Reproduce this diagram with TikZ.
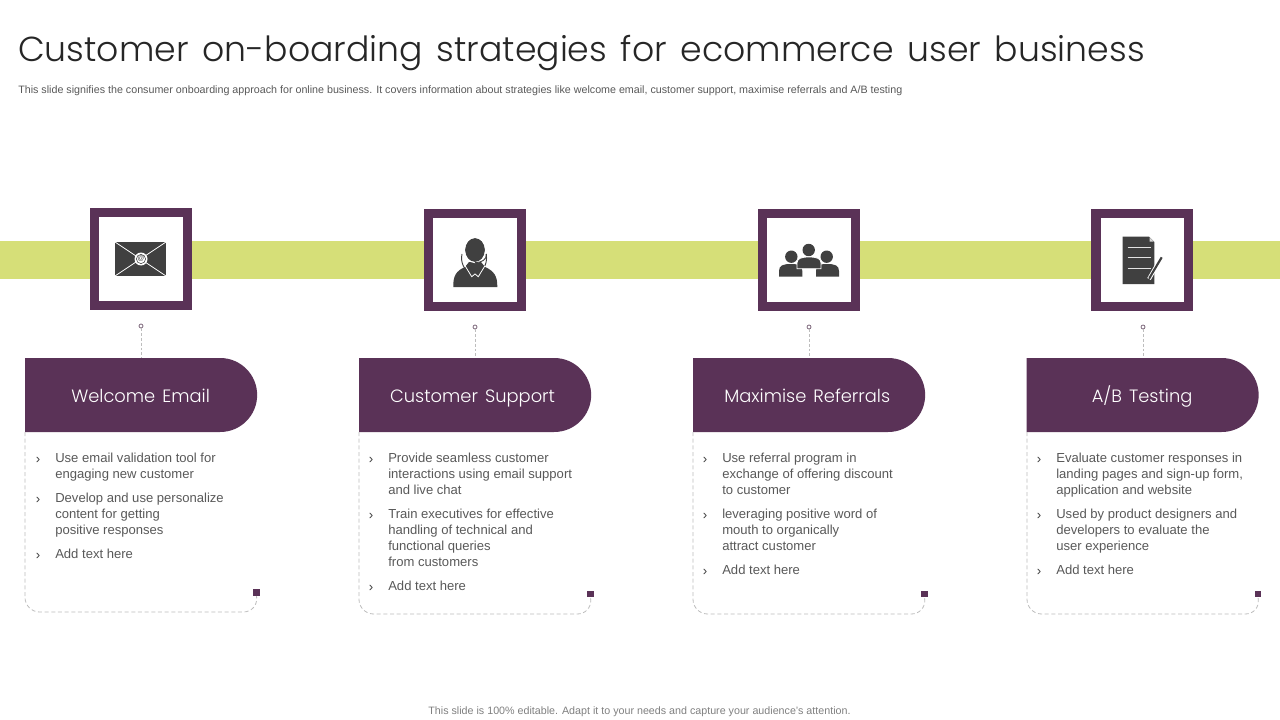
\documentclass[tikz,border=0pt]{standalone}
\usepackage{fontspec}
\setmainfont{Liberation Sans}
\newfontfamily\gothic[UprightFont={* Light},WordSpace=1.45]{Poppins}
\usetikzlibrary{shapes.misc}
\definecolor{plum}{HTML}{5A3257}
\definecolor{lime}{HTML}{D6DF78}
\definecolor{icon}{HTML}{404040}
\definecolor{dashc}{HTML}{BDBDBD}
\definecolor{bodyc}{HTML}{595959}
\tikzset{
 title/.style={anchor=base west,inner sep=0,text=black!85,font=\gothic\fontsize{26}{30}\selectfont},
 sub/.style={anchor=base west,inner sep=0,text=bodyc,font=\fontsize{8.03}{9}\selectfont},
 iconbox/.style={draw=plum,fill=white,line width=7.1pt,minimum size=69.4pt,inner sep=0},
 head/.style={rounded rectangle,rounded rectangle left arc=none,fill=plum,text=white,minimum width=174pt,minimum height=55.5pt,inner sep=0,text height=12pt,text depth=1.5pt,font=\gothic\fontsize{13.4}{16}\selectfont},
 para/.style={anchor=north west,inner sep=0,align=left,text=bodyc,font=\fontsize{9.8}{12}\selectfont},
 bull/.style={anchor=center,inner sep=0,text=icon,font=\fontsize{10}{12}\selectfont},
 dot/.style={circle,draw=plum!60!gray,fill=white,line width=.5pt,minimum size=3pt,inner sep=0},
 endsq/.style={rectangle,fill=plum,minimum size=5pt,inner sep=0},
 link/.style={draw=dashc,dashed,dash pattern=on 2.2pt off 1.4pt,line width=.6pt},
 panel/.style={draw=dashc,dash pattern=on 3pt off 2pt,line width=.6pt,rounded corners=11pt},
 ink/.style={fill=icon,draw=none},
 cut/.style={draw=white,line width=.6pt},
}
\begin{document}
\begin{tikzpicture}[x=0.75pt,y=-0.75pt]
\useasboundingbox (0,0) rectangle (1280,720);
\fill[white] (0,0) rectangle (1280,720);
\node[title] (ttl) at (18,62) {Customer on-boarding strategies for ecommerce user business};
\node[sub] (subttl) at (18,93.5) {This slide signifies the consumer onboarding approach for online business. It covers information about strategies like welcome email, customer support, maximise referrals and A/B testing};
\fill[lime] (0,241) rectangle (1280,279);
\node[iconbox] (box1) at (141,259) {};
\node[iconbox] (box2) at (475,260) {};
\node[iconbox] (box3) at (809,260) {};
\node[iconbox] (box4) at (1142.3,260) {};
% envelope
\fill[ink] (115,242) rectangle (166,276);
\draw[cut] (115,242) -- (166,276) (166,242) -- (115,276);
\fill[white] (141,259) circle (6.5);
\draw[icon,line width=.4pt] (141,259) circle (4.6);
\node[inner sep=0,text=icon,font=\fontsize{5}{5}\selectfont] (envat) at (141,259) {@};
% agent
\fill[ink] (453.3,287) .. controls (453,276) and (456,271) .. (465,267) -- (469,262) -- (481,262) -- (485,267) .. controls (494,271) and (497.5,276) .. (497.3,287) -- cycle;
\fill[ink] (475,250) ellipse (10 and 12);
\draw[white,line width=.8pt] (475,250) ellipse (10.6 and 12.6);
\draw[icon,line width=.7pt] (462,254) arc[start angle=195,end angle=-15,x radius=12.5,y radius=15.5];
\draw[icon,line width=.7pt] (486.5,254) .. controls (486.5,260) and (482,262.3) .. (475,262.7);
\draw[cut] (465,265.7) -- (471.7,276.7) -- (475,274) -- (478.3,276.7) -- (485,265.7);
% group
\fill[ink] (791.3,256.7) circle (6.2);
\fill[ink] (826.7,256.7) circle (6.2);
\fill[ink] (779,276.7) -- (779,271) .. controls (779,265.5) and (783,264) .. (791,264) .. controls (799,264) and (802.3,265.5) .. (802.3,271) -- (802.3,276.7) -- cycle;
\fill[ink] (816,276.7) -- (816,271) .. controls (816,265.5) and (819,264) .. (827,264) .. controls (835,264) and (839,265.5) .. (839,271) -- (839,276.7) -- cycle;
\fill[ink] (808.7,250) circle (6.2);
\filldraw[fill=icon,draw=white,line width=.6pt] (797,268.7) -- (797,263) .. controls (797,258.5) and (801,257) .. (809,257) .. controls (817,257) and (821,258.5) .. (821,263) -- (821,268.7) -- cycle;
% document
\fill[ink] (1122.7,236.7) -- (1149,236.7) -- (1154.3,242) -- (1154.3,284) -- (1122.7,284) -- cycle;
\fill[white!80!icon] (1149.5,237.5) -- (1153.7,241.7) -- (1149.5,241.7) -- cycle;
\draw[white!85!icon,line width=.6pt] (1127.7,247.3) -- (1150.7,247.3) (1127.7,257.3) -- (1150.7,257.3) (1127.7,268.3) -- (1150.7,268.3);
\draw[white,line width=3pt] (1161,258) -- (1149,279);
\draw[icon,line width=1.6pt] (1161.7,257.3) -- (1150,277);
\fill[icon] (1151.2,277.5) -- (1148.3,280.8) -- (1148.8,276) -- cycle;
% columns
\node[dot] (dot1) at (141,326) {};
\node[dot] (dot2) at (475,327) {};
\node[dot] (dot3) at (809,327) {};
\node[dot] (dot4) at (1143,327) {};
\node[head] (head1) at (140.6,395) {Welcome Email};
\node[head] (head2) at (474.6,395) {Customer Support\hspace*{3pt}};
\node[head] (head3) at (808.6,395) {Maximise Referrals\hspace*{2pt}};
\node[head] (head4) at (1142.1,395) {A/B Testing};
\draw[link] (dot1.south) -- (dot1.south |- head1.north);
\draw[link] (dot2.south) -- (dot2.south |- head2.north);
\draw[link] (dot3.south) -- (dot3.south |- head3.north);
\draw[link] (dot4.south) -- (dot4.south |- head4.north);
\node[endsq] (sq1) at (256.5,592.5) {};
\node[endsq] (sq2) at (590.5,594) {};
\node[endsq] (sq3) at (924.5,594) {};
\node[endsq] (sq4) at (1258,594) {};
\coordinate (top1) at (25,432); \coordinate (low1) at (258,612);
\coordinate (top2) at (359,432); \coordinate (low2) at (592,614);
\coordinate (top3) at (693,432); \coordinate (low3) at (926,614);
\coordinate (top4) at (1027,432); \coordinate (low4) at (1260,614);
\draw[panel] (top1) |- (low1) -- (sq1.south);
\draw[panel] (top2) |- (low2) -- (sq2.south);
\draw[panel] (top3) |- (low3) -- (sq3.south);
\draw[panel] (top4) |- (low4) -- (sq4.south);
% column 1
\node[bull] (b11) at (38,460) {›};
\node[para] (p11) at (55,453) {Use email validation tool for\\engaging new customer};
\node[bull] (b12) at (38,500) {›};
\node[para] (p12) at (55,493) {Develop and use personalize\\content for getting\\positive responses};
\node[bull] (b13) at (38,556) {›};
\node[para] (p13) at (55,549) {Add text here};
% column 2
\node[bull] (b21) at (371,460) {›};
\node[para] (p21) at (388,453) {Provide seamless customer\\interactions using email support\\and live chat};
\node[bull] (b22) at (371,516) {›};
\node[para] (p22) at (388,509) {Train executives for effective\\handling of technical and\\functional queries\\from customers};
\node[bull] (b23) at (371,588) {›};
\node[para] (p23) at (388,581) {Add text here};
% column 3
\node[bull] (b31) at (705,460) {›};
\node[para] (p31) at (722,453) {Use referral program in\\exchange of offering discount\\to customer};
\node[bull] (b32) at (705,516) {›};
\node[para] (p32) at (722,509) {leveraging positive word of\\mouth to organically\\attract customer};
\node[bull] (b33) at (705,572) {›};
\node[para] (p33) at (722,565) {Add text here};
% column 4
\node[bull] (b41) at (1039,460) {›};
\node[para] (p41) at (1056,453) {Evaluate customer responses in\\landing pages and sign-up form,\\application and website};
\node[bull] (b42) at (1039,516) {›};
\node[para] (p42) at (1056,509) {Used by product designers and\\developers to evaluate the\\user experience};
\node[bull] (b43) at (1039,572) {›};
\node[para] (p43) at (1056,565) {Add text here};
\node[sub,anchor=base,text=black!50] (foot) at (639.5,714.5) {This slide is 100\% editable. Adapt it to your needs and capture your audience's attention.};
\end{tikzpicture}
\end{document}
